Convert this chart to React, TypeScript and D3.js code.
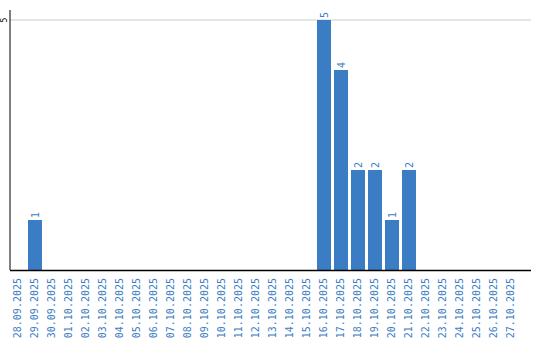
import React from "react";
import * as d3 from "d3";

const dates: string[] = [
  "28.09.2025", "29.09.2025", "30.09.2025", "01.10.2025", "02.10.2025",
  "03.10.2025", "04.10.2025", "05.10.2025", "06.10.2025", "07.10.2025",
  "08.10.2025", "09.10.2025", "10.10.2025", "11.10.2025", "12.10.2025",
  "13.10.2025", "14.10.2025", "15.10.2025", "16.10.2025", "17.10.2025",
  "18.10.2025", "19.10.2025", "20.10.2025", "21.10.2025", "22.10.2025",
  "23.10.2025", "24.10.2025", "25.10.2025", "26.10.2025", "27.10.2025",
];
const counts: number[] = [
  0, 1, 0, 0, 0, 0, 0, 0, 0, 0,
  0, 0, 0, 0, 0, 0, 0, 0, 5, 4,
  2, 2, 1, 2, 0, 0, 0, 0, 0, 0,
];
const yTicks: number[] = [5];

const W = 540, H = 340;
const left = 10, right = 520, axisRight = 531, top = 10, bottom = 270;
const blue = "#3b7dc4";
const font = "'DejaVu Sans Mono', 'Liberation Mono', monospace";

export default function App() {
  const x = d3.scaleBand<string>().domain(dates).range([left, right]).padding(0);
  const y = d3.scaleLinear().domain([0, 5.2]).range([bottom, top]);
  const bw = x.bandwidth();
  return (
    <svg width={W} height={H} style={{ position: "absolute", left: 0, top: 0, background: "#fff" }}>
      {yTicks.map((t) => (
        <g key={t}>
          <line x1={left} x2={axisRight} y1={y(t)} y2={y(t)} stroke="#cccccc" strokeWidth={1} />
          <text
            transform={`translate(${left - 3},${y(t)}) rotate(-90)`}
            textAnchor="middle"
            fontFamily={font}
            fontSize={8}
            fill="#000"
          >
            {t}
          </text>
        </g>
      ))}
      {dates.map((d, i) =>
        counts[i] > 0 ? (
          <g key={d}>
            <rect
              x={(x(d) as number) + 1}
              y={y(counts[i])}
              width={bw - 3}
              height={y(0) - y(counts[i])}
              fill={blue}
            />
            <text
              transform={`translate(${(x(d) as number) + 1 + (bw - 3) / 2 + 3.5},${y(counts[i]) - 2}) rotate(-90)`}
              textAnchor="start"
              fontFamily={font}
              fontSize={10}
              fill={blue}
            >
              {counts[i]}
            </text>
          </g>
        ) : null
      )}
      <line x1={left} x2={left} y1={top} y2={bottom} stroke="#000" strokeWidth={1} />
      <line x1={left} x2={axisRight} y1={bottom + 0.5} y2={bottom + 0.5} stroke="#000" strokeWidth={1.5} />
      {dates.map((d) => (
        <text
          key={"l" + d}
          transform={`translate(${(x(d) as number) + bw / 2 + 2.5},${bottom + 8}) rotate(-90)`}
          textAnchor="end"
          fontFamily={font}
          fontSize={10}
          fill={blue}
        >
          {d}
        </text>
      ))}
    </svg>
  );
}
